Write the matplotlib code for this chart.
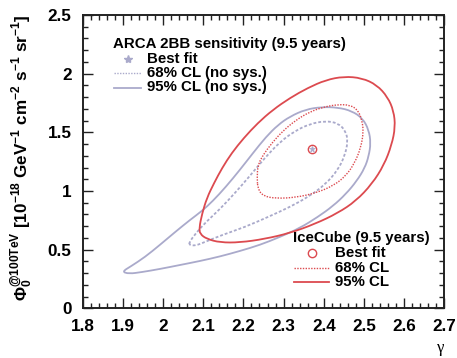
import matplotlib
matplotlib.use("Agg")
import matplotlib.pyplot as plt
from matplotlib.lines import Line2D
from matplotlib.path import Path
from matplotlib.patches import PathPatch

# ---- data: confidence contours in (gamma, flux normalisation) ----
best_fit = (2.37, 1.36)

arca95_gamma = [1.898, 1.920, 1.955, 1.992, 2.030, 2.067, 2.097, 2.124, 2.156, 2.191,
                2.224, 2.256, 2.286, 2.316, 2.355, 2.395, 2.435, 2.470, 2.497, 2.512,
                2.517, 2.512, 2.502, 2.482, 2.455, 2.423, 2.385, 2.341, 2.291, 2.241,
                2.191, 2.142, 2.092, 2.042, 1.992, 1.948, 1.915]
arca95_phi = [0.312, 0.358, 0.437, 0.540, 0.650, 0.753, 0.830, 0.915, 1.034, 1.179,
              1.324, 1.460, 1.563, 1.635, 1.695, 1.716, 1.712, 1.682, 1.618, 1.520,
              1.409, 1.298, 1.196, 1.085, 0.974, 0.872, 0.778, 0.685, 0.608, 0.540,
              0.488, 0.442, 0.403, 0.369, 0.335, 0.309, 0.294]

arca68_gamma = [2.064, 2.082, 2.107, 2.142, 2.179, 2.216, 2.253, 2.291, 2.328, 2.365,
                2.403, 2.435, 2.455, 2.460, 2.452, 2.435, 2.405, 2.365, 2.316, 2.261,
                2.204, 2.147, 2.104, 2.082, 2.067]
arca68_phi = [0.557, 0.642, 0.736, 0.847, 0.983, 1.128, 1.281, 1.418, 1.511, 1.571,
              1.597, 1.580, 1.511, 1.418, 1.298, 1.179, 1.060, 0.957, 0.864, 0.778,
              0.693, 0.625, 0.565, 0.535, 0.538]

ic95_gamma = [2.090, 2.097, 2.109, 2.127, 2.147, 2.171, 2.201, 2.236, 2.273, 2.316,
              2.360, 2.405, 2.450, 2.495, 2.532, 2.559, 2.574, 2.578, 2.569, 2.550,
              2.520, 2.480, 2.435, 2.378, 2.316, 2.253, 2.191, 2.142, 2.109, 2.092]
ic95_phi = [0.685, 0.804, 0.940, 1.068, 1.196, 1.324, 1.452, 1.580, 1.691, 1.793,
            1.878, 1.946, 1.976, 1.963, 1.904, 1.801, 1.682, 1.546, 1.392, 1.222,
            1.060, 0.915, 0.812, 0.719, 0.642, 0.591, 0.561, 0.561, 0.591, 0.633]

ic68_gamma = [2.234, 2.236, 2.249, 2.271, 2.298, 2.331, 2.365, 2.400, 2.435, 2.465,
              2.485, 2.495, 2.499, 2.492, 2.477, 2.455, 2.423, 2.380, 2.331, 2.281,
              2.249, 2.236]
ic68_phi = [1.111, 1.222, 1.307, 1.409, 1.511, 1.605, 1.674, 1.716, 1.737, 1.733,
            1.691, 1.605, 1.503, 1.367, 1.239, 1.128, 1.043, 0.983, 0.945, 0.936,
            0.957, 1.017]

x_ticks = [1.8, 1.9, 2.0, 2.1, 2.2, 2.3, 2.4, 2.5, 2.6, 2.7]
x_ticklabels = ["1.8", "1.9", "2", "2.1", "2.2", "2.3", "2.4", "2.5", "2.6", "2.7"]
y_ticks = [0, 0.5, 1.0, 1.5, 2.0, 2.5]
y_ticklabels = ["0", "0.5", "1", "1.5", "2", "2.5"]

# ---- style ----
BLUE = "#aaaacb"
RED = "#dc4a4f"
plt.rcParams["font.family"] = ["Liberation Sans", "DejaVu Sans"]
plt.rcParams["mathtext.fontset"] = "custom"
plt.rcParams["mathtext.rm"] = "Liberation Sans:bold"
plt.rcParams["mathtext.it"] = "Liberation Sans:bold"
plt.rcParams["mathtext.bf"] = "Liberation Sans:bold"
plt.rcParams["mathtext.default"] = "rm"

W, H = 457, 358
fig = plt.figure(figsize=(W / 100, H / 100), dpi=100)
L, R, T, B = 82.7, 444.3, 15.0, 308.3
ax = fig.add_axes([L / W, 1 - B / H, (R - L) / W, (B - T) / H])


def fx(px):
    return px / W


def fy(py):
    return 1 - py / H


def closed_contour(ax, xs, ys, **kw):
    """Draw a smooth closed contour using the sampled points as quadratic Bezier controls."""
    pts = list(zip(xs, ys))
    n = len(pts)
    mids = [((pts[i][0] + pts[(i + 1) % n][0]) / 2, (pts[i][1] + pts[(i + 1) % n][1]) / 2)
            for i in range(n)]
    verts = [mids[-1]]
    codes = [Path.MOVETO]
    for i in range(n):
        verts += [pts[i], mids[i]]
        codes += [Path.CURVE3, Path.CURVE3]
    patch = PathPatch(Path(verts, codes), fill=False, transform=ax.transData, **kw)
    ax.add_patch(patch)


lw = 1.3
closed_contour(ax, arca95_gamma, arca95_phi, edgecolor=BLUE, lw=lw)
closed_contour(ax, arca68_gamma, arca68_phi, edgecolor=BLUE, lw=lw, ls=(0, (1.6, 1.1)))
closed_contour(ax, ic95_gamma, ic95_phi, edgecolor=RED, lw=lw)
closed_contour(ax, ic68_gamma, ic68_phi, edgecolor=RED, lw=1.0, ls=(0, (1.0, 1.0)))
ax.plot([best_fit[0]], [best_fit[1]], marker="o", ms=6, mfc="none", mec=RED, mew=1.0)
ax.plot([best_fit[0]], [best_fit[1]], marker="*", ms=5, color=BLUE, mew=0.5)

ax.set_xlim(1.8, 2.7)
ax.set_ylim(0, 2.5)
ax.set_xticks(x_ticks)
ax.set_xticklabels(x_ticklabels)
ax.set_yticks(y_ticks)
ax.set_yticklabels(y_ticklabels)
ax.set_xticks([1.8 + 0.02 * i for i in range(46)], minor=True)
ax.set_yticks([0.1 * i for i in range(26)], minor=True)
ax.tick_params(which="both", direction="in", top=True, right=True, width=1.0, color="#222222")
ax.tick_params(which="major", length=7)
ax.tick_params(which="minor", length=3.5)
ax.tick_params(axis="x", which="major", pad=8, labelsize=12.3)
ax.tick_params(axis="y", which="major", pad=8, labelsize=12.3)
for lab in ax.get_xticklabels() + ax.get_yticklabels():
    lab.set_fontweight("bold")
for s in ax.spines.values():
    s.set_linewidth(1.4)
    s.set_color("#222222")

# axis titles
fig.text(fx(444), fy(348), "γ", ha="right", va="center", fontsize=12,
         family=["Liberation Serif", "DejaVu Serif"])
fig.text(fx(22), fy(158), r"$\Phi_0^{@100TeV}$ [10$^{-18}$ GeV$^{-1}$ cm$^{-2}$ s$^{-1}$ sr$^{-1}$]",
         rotation=90, ha="center", va="center", fontsize=12.3, fontweight="bold")

# legends
fs = 10.8


def legend_block(x0, xtext, ytitle, rows, title):
    fig.text(fx(x0), fy(ytitle), title, ha="left", va="center", fontsize=fs, fontweight="bold")
    for y, kind, label in rows:
        if kind[0] == "marker":
            fig.add_artist(Line2D([fx((x0 + xtext - 6) / 2 + 1)], [fy(y)], **kind[1]))
        else:
            fig.add_artist(Line2D([fx(x0 + 1), fx(xtext - 6)], [fy(y), fy(y)], **kind[1]))
        fig.text(fx(xtext), fy(y), label, ha="left", va="center", fontsize=fs, fontweight="bold")


legend_block(113, 147, 44,
             [(59, ("marker", dict(marker="*", ms=6, color=BLUE, ls="none")), "Best fit"),
              (73, ("line", dict(color=BLUE, lw=1.0, ls=(0, (1.0, 1.0)))), "68% CL (no sys.)"),
              (87.5, ("line", dict(color=BLUE, lw=lw)), "95% CL (no sys.)")],
             "ARCA 2BB sensitivity (9.5 years)")
legend_block(293, 335, 238,
             [(253, ("marker", dict(marker="o", ms=6, mfc="none", mec=RED, mew=1.0, ls="none")), "Best fit"),
              (267.5, ("line", dict(color=RED, lw=1.0, ls=(0, (1.0, 1.0)))), "68% CL"),
              (281.5, ("line", dict(color=RED, lw=lw)), "95% CL")],
             "IceCube (9.5 years)")

fig.savefig("out.png", dpi=100)
